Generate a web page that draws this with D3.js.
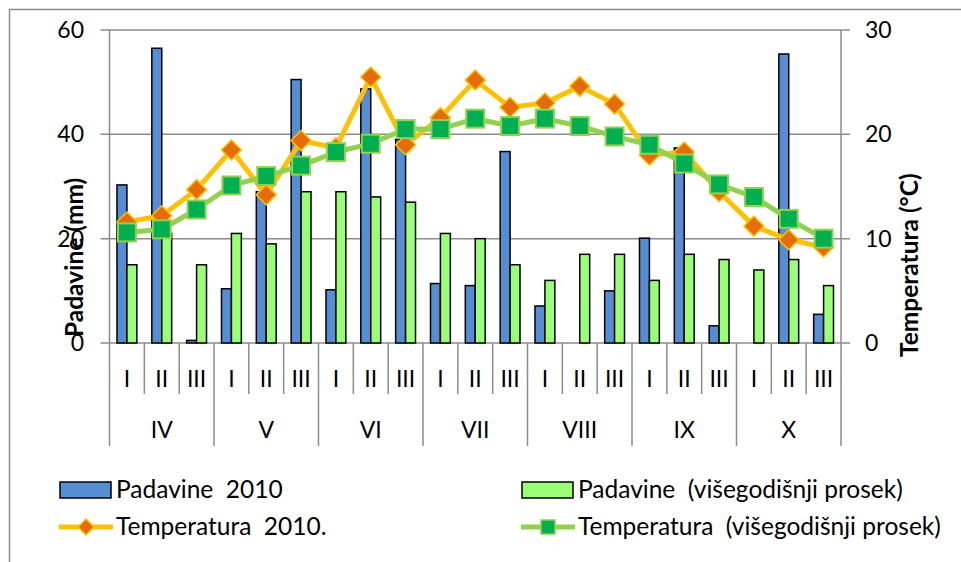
<!DOCTYPE html>
<html>
  <head>
    <style>
      html,
      body {
        margin: 0;
        padding: 0;
        background: #fff;
      }
      svg text {
        font-family: Lato, "Liberation Sans", sans-serif;
        fill: #000;
      }
    </style>
  </head>
  <body>
    <div id="viz"></div>
    <script src="https://d3js.org/d3.v7.min.js"></script>
    <script>
      const months = ["IV", "V", "VI", "VII", "VIII", "IX", "X"];
      const decades = ["I", "II", "III"];
      const padavine2010 = [30.3, 56.5, 0.5, 10.4, 29, 50.5, 10.2, 48.7, 39, 11.4, 11.0, 36.7, 7.1, 0, 10.0, 20.1, 37.4, 3.3, 0, 55.4, 5.5];
      const padavineProsek = [15, 21, 15, 21, 19, 29, 29, 28, 27, 21, 20, 15, 12, 17, 17, 12, 17, 16, 14, 16, 11];
      const temp2010 = [11.6, 12.2, 14.7, 18.5, 14.2, 19.4, 18.7, 25.5, 19.0, 21.6, 25.2, 22.6, 23.0, 24.6, 22.9, 18.0, 18.3, 14.5, 11.2, 9.9, 9.2];
      const tempProsek = [10.6, 10.9, 12.8, 15.1, 16.0, 17.0, 18.3, 19.1, 20.5, 20.5, 21.5, 20.8, 21.5, 20.8, 19.8, 19.0, 17.2, 15.2, 14.0, 11.9, 10.0];
      const leftTicks = [0, 20, 40, 60];
      const rightTicks = [0, 10, 20, 30];

      const width = 961;
      const height = 562;
      const plotLeft = 109.5;
      const plotRight = 841;
      const plotTop = 30;
      const plotBottom = 343;
      const grey = "#8c8c8c";

      const cats = [];
      months.forEach((m) => decades.forEach((d) => cats.push(m + "-" + d)));

      const svg = d3
        .select("#viz")
        .append("svg")
        .attr("width", width)
        .attr("height", height);

      // outer frame (only top and left edges visible)
      svg.append("path")
        .attr("d", "M9.5,562 V9.5 H961")
        .attr("fill", "none")
        .attr("stroke", grey)
        .attr("stroke-width", 1.5);

      const x = d3.scaleBand().domain(cats).range([plotLeft, plotRight]).paddingInner(0.43).paddingOuter(0.215);
      const step = x.step();
      const xSub = d3.scaleBand().domain([0, 1]).range([0, x.bandwidth()]);
      const yL = d3.scaleLinear().domain([0, 60]).range([plotBottom, plotTop]);
      const yR = d3.scaleLinear().domain([0, 30]).range([plotBottom, plotTop]);
      const cx = (i) => x(cats[i]) + x.bandwidth() / 2;

      // gridlines + ticks
      svg.append("g")
        .selectAll("line")
        .data(leftTicks)
        .join("line")
        .attr("x1", plotLeft - 9)
        .attr("x2", plotRight + 9)
        .attr("y1", (d) => yL(d))
        .attr("y2", (d) => yL(d))
        .attr("stroke", grey)
        .attr("stroke-width", 1.5);

      svg.append("g")
        .selectAll("text")
        .data(leftTicks)
        .join("text")
        .attr("x", 84)
        .attr("y", (d) => yL(d) + 8)
        .attr("text-anchor", "end")
        .attr("font-size", 23)
        .text((d) => d);

      svg.append("g")
        .selectAll("text")
        .data(rightTicks)
        .join("text")
        .attr("x", 865)
        .attr("y", (d) => yR(d) + 8)
        .attr("font-size", 23)
        .text((d) => d);

      // axis lines
      [plotLeft, plotRight].forEach((xx) => {
        svg.append("line")
          .attr("x1", xx).attr("x2", xx)
          .attr("y1", plotTop).attr("y2", plotBottom)
          .attr("stroke", grey).attr("stroke-width", 1.5);
      });

      // x axis separators
      const sep = svg.append("g").attr("stroke", grey).attr("stroke-width", 1.5);
      d3.range(cats.length + 1).forEach((i) => {
        const xx = plotLeft + i * step;
        sep.append("line")
          .attr("x1", xx).attr("x2", xx)
          .attr("y1", plotBottom)
          .attr("y2", i % 3 === 0 ? 446 : 394);
      });

      svg.append("g")
        .selectAll("text")
        .data(cats)
        .join("text")
        .attr("x", (d, i) => cx(i))
        .attr("y", 387)
        .attr("text-anchor", "middle")
        .attr("font-size", 23)
        .text((d) => d.split("-")[1]);

      svg.append("g")
        .selectAll("text")
        .data(months)
        .join("text")
        .attr("x", (d, i) => plotLeft + (i * 3 + 1.5) * step)
        .attr("y", 438)
        .attr("text-anchor", "middle")
        .attr("font-size", 23)
        .text((d) => d);

      // bars
      const bars = svg.append("g").attr("stroke", "#000").attr("stroke-width", 1.5);
      bars.selectAll(".b1")
        .data(padavine2010)
        .join("rect")
        .attr("x", (d, i) => x(cats[i]) + xSub(0))
        .attr("width", xSub.bandwidth())
        .attr("y", (d) => yL(d))
        .attr("height", (d) => plotBottom - yL(d))
        .attr("fill", "#558ed5")
        .attr("display", (d) => (d > 0 ? null : "none"));
      bars.selectAll(".b2")
        .data(padavineProsek)
        .join("rect")
        .attr("x", (d, i) => x(cats[i]) + xSub(1))
        .attr("width", xSub.bandwidth())
        .attr("y", (d) => yL(d))
        .attr("height", (d) => plotBottom - yL(d))
        .attr("fill", "#99ff77");

      // lines
      const line = d3.line().x((d, i) => cx(i)).y((d) => yR(d));
      const diamond = (s) => `M0,${-s}L${s},0L0,${s}L${-s},0Z`;

      svg.append("path")
        .attr("d", line(temp2010))
        .attr("fill", "none")
        .attr("stroke", "#ffc000")
        .attr("stroke-width", 5);
      svg.append("g")
        .selectAll("path")
        .data(temp2010)
        .join("path")
        .attr("transform", (d, i) => `translate(${cx(i)},${yR(d)})`)
        .attr("d", diamond(10))
        .attr("fill", "#e46c0a")
        .attr("stroke", "#ffc000")
        .attr("stroke-width", 1.5);

      svg.append("path")
        .attr("d", line(tempProsek))
        .attr("fill", "none")
        .attr("stroke", "#92d050")
        .attr("stroke-width", 5);
      svg.append("g")
        .selectAll("rect")
        .data(tempProsek)
        .join("rect")
        .attr("x", (d, i) => cx(i) - 9)
        .attr("y", (d) => yR(d) - 9)
        .attr("width", 18)
        .attr("height", 18)
        .attr("fill", "#00b050")
        .attr("stroke", "#92d050")
        .attr("stroke-width", 2);

      // axis titles
      svg.append("text")
        .attr("transform", "translate(83,337) rotate(-90)")
        .attr("font-size", 24.5)
        .attr("font-weight", "bold")
        .text("Padavine (mm)");
      svg.append("text")
        .attr("transform", "translate(918,357) rotate(-90)")
        .attr("font-size", 24.5)
        .attr("font-weight", "bold")
        .text("Temperatura (°C)");

      // legend
      const lg = svg.append("g");
      const addText = (tx, ty, t) =>
        lg.append("text").attr("x", tx).attr("y", ty).attr("font-size", 24.5).attr("xml:space", "preserve").text(t);

      lg.append("rect").attr("x", 60).attr("y", 482).attr("width", 51).attr("height", 16)
        .attr("fill", "#558ed5").attr("stroke", "#000").attr("stroke-width", 1.5);
      addText(116, 498, "Padavine  2010");

      lg.append("rect").attr("x", 522).attr("y", 482).attr("width", 51).attr("height", 16)
        .attr("fill", "#99ff77").attr("stroke", "#000").attr("stroke-width", 1.5);
      addText(578, 498, "Padavine  (višegodišnji prosek)");

      lg.append("line").attr("x1", 59).attr("x2", 113).attr("y1", 527).attr("y2", 527)
        .attr("stroke", "#ffc000").attr("stroke-width", 5);
      lg.append("path").attr("transform", "translate(86,527)").attr("d", diamond(8))
        .attr("fill", "#e46c0a").attr("stroke", "#ffc000").attr("stroke-width", 1.5);
      addText(116, 535, "Temperatura  2010.");

      lg.append("line").attr("x1", 521).attr("x2", 575).attr("y1", 527).attr("y2", 527)
        .attr("stroke", "#92d050").attr("stroke-width", 5);
      lg.append("rect").attr("x", 541).attr("y", 520).attr("width", 14).attr("height", 14)
        .attr("fill", "#00b050").attr("stroke", "#92d050").attr("stroke-width", 1.5);
      addText(578, 535, "Temperatura  (višegodišnji prosek)");
    </script>
  </body>
</html>
